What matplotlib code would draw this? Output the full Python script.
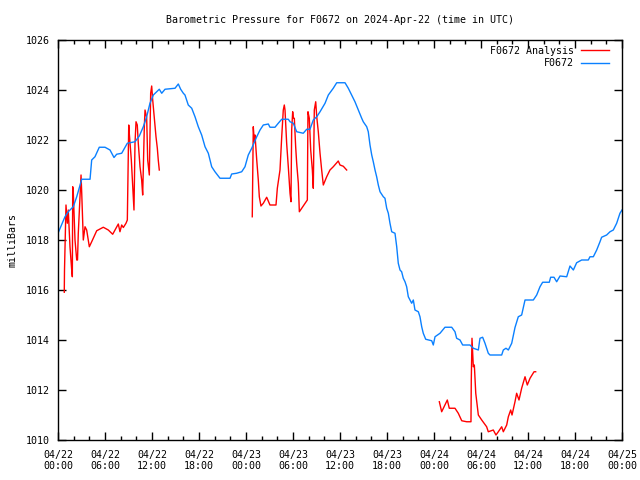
import matplotlib
matplotlib.use("Agg")
import matplotlib.pyplot as plt
from matplotlib.ticker import MultipleLocator, FixedLocator
import numpy as np

# hours since 2024-04-22 00:00 UTC
obs_hours = [0.0, 0.89, 1.31, 1.95, 2.39, 2.81, 3.03, 4.09, 4.30, 4.72, 5.27, 6.0, 6.64, 7.15,
             7.49, 8.13, 8.85, 9.83, 10.38, 10.89, 11.32, 11.74, 12.17, 12.93, 13.24, 13.66,
             14.94, 15.36, 15.66, 16.0, 16.21, 16.63, 17.07, 17.49, 17.91, 18.34, 18.77, 19.19,
             19.62, 20.04, 20.68, 21.96, 22.17, 22.81, 23.45, 23.87, 24.29, 24.73, 25.37, 25.79,
             26.21, 26.85, 27.06, 27.70, 28.12, 28.56, 29.40, 29.62, 30.04, 30.47, 31.31, 31.75,
             32.17, 32.59, 33.03, 33.45, 34.09, 34.51, 35.14, 35.58, 36.64, 37.06, 37.49, 37.91,
             38.34, 38.77, 38.97, 39.41, 39.61, 39.83, 40.05, 40.25, 40.47, 40.68, 40.89, 41.11,
             41.53, 41.74, 41.96, 42.17, 42.38, 42.60, 43.02, 43.24, 43.44, 43.66, 43.87, 44.08,
             44.30, 44.51, 44.72, 44.94, 45.15, 45.36, 45.57, 46.0, 46.21, 46.43, 46.63, 46.94,
             47.71, 47.91, 48.13, 48.77, 49.40, 50.26, 50.68, 50.89, 51.32, 51.66, 52.59, 53.02,
             53.66, 53.87, 54.21, 54.51, 54.93, 55.15, 56.64, 56.85, 57.19, 57.49, 57.92, 58.34,
             58.76, 59.19, 59.62, 60.68, 61.11, 61.53, 61.87, 62.72, 62.89, 63.32, 63.66, 64.09,
             64.94, 65.36, 65.79, 66.21, 66.85, 67.70, 67.91, 68.34, 68.77, 69.19, 69.40, 70.04,
             70.47, 70.89, 71.32, 71.74, 72.0]
obs_mbar = [1018.27, 1018.93, 1019.13, 1019.33, 1019.73, 1020.2, 1020.43, 1020.43, 1021.2, 1021.33,
            1021.71, 1021.71, 1021.6, 1021.3, 1021.43, 1021.47, 1021.87, 1021.93, 1022.16, 1022.53,
            1022.93, 1023.47, 1023.8, 1024.03, 1023.87, 1024.03, 1024.07, 1024.24, 1024.03, 1023.87,
            1023.8, 1023.4, 1023.27, 1022.93, 1022.53, 1022.2, 1021.73, 1021.47, 1020.93, 1020.73,
            1020.47, 1020.47, 1020.64, 1020.67, 1020.73, 1020.93, 1021.4, 1021.67, 1022.13, 1022.4,
            1022.6, 1022.64, 1022.51, 1022.51, 1022.67, 1022.83, 1022.83, 1022.73, 1022.67, 1022.33,
            1022.27, 1022.43, 1022.43, 1022.8, 1022.93, 1023.13, 1023.47, 1023.8, 1024.07, 1024.29,
            1024.29, 1024.07, 1023.8, 1023.53, 1023.2, 1022.87, 1022.73, 1022.53, 1022.33, 1021.8,
            1021.4, 1021.13, 1020.8, 1020.53, 1020.2, 1019.93, 1019.73, 1019.67, 1019.27, 1019.07,
            1018.67, 1018.33, 1018.27, 1017.73, 1017.07, 1016.8, 1016.73, 1016.47, 1016.33, 1016.13,
            1015.73, 1015.6, 1015.47, 1015.6, 1015.2, 1015.13, 1014.93, 1014.53, 1014.27, 1014.03,
            1013.97, 1013.8, 1014.13, 1014.27, 1014.51, 1014.51, 1014.33, 1014.07, 1014.0, 1013.8,
            1013.8, 1013.67, 1013.6, 1014.07, 1014.11, 1013.87, 1013.47, 1013.4, 1013.4, 1013.6,
            1013.67, 1013.6, 1013.87, 1014.5, 1014.93, 1015.0, 1015.6, 1015.6, 1015.8, 1016.13,
            1016.31, 1016.31, 1016.51, 1016.51, 1016.33, 1016.56, 1016.53, 1016.96, 1016.8, 1017.09,
            1017.2, 1017.2, 1017.33, 1017.33, 1017.6, 1017.93, 1018.11, 1018.2, 1018.33, 1018.4,
            1018.67, 1019.07, 1019.2]

# analysis series, three separate runs (gaps between them)
ana1_hours = [0.80, 0.83, 1.02, 1.19, 1.31, 1.53, 1.75, 1.83, 1.88, 1.95, 2.17, 2.39, 2.49, 2.59,
              2.94, 3.03, 3.23, 3.45, 3.66, 4.0, 4.30, 4.94, 5.78, 6.42, 6.98, 7.28, 7.70, 7.91,
              8.13, 8.34, 8.68, 8.85, 8.94, 9.03, 9.10, 9.36, 9.54, 9.70, 9.83, 9.96, 10.12, 10.25,
              10.47, 10.68, 10.81, 11.02, 11.11, 11.32, 11.45, 11.66, 11.83, 11.96, 12.09, 12.26,
              12.51, 12.68, 12.80, 12.93]
ana1_mbar = [1015.91, 1016.8, 1019.4, 1018.67, 1019.2, 1017.73, 1016.8, 1016.53, 1020.13, 1019.93,
             1018.0, 1017.2, 1017.2, 1018.27, 1020.6, 1019.87, 1018.0, 1018.53, 1018.4, 1017.73,
             1017.93, 1018.37, 1018.51, 1018.4, 1018.23, 1018.4, 1018.64, 1018.33, 1018.6, 1018.5,
             1018.67, 1018.8, 1020.73, 1022.6, 1022.27, 1021.2, 1020.13, 1019.2, 1021.87, 1022.73,
             1022.6, 1021.87, 1020.93, 1020.4, 1019.8, 1022.53, 1023.2, 1022.9, 1021.2, 1020.6,
             1023.87, 1024.16, 1023.6, 1023.0, 1022.13, 1021.67, 1021.2, 1020.8]

ana2_hours = [24.80, 24.93, 25.06, 25.15, 25.37, 25.57, 25.70, 25.91, 26.21, 26.64, 26.85, 27.06,
              27.83, 28.0, 28.34, 28.56, 28.76, 28.89, 28.98, 29.19, 29.40, 29.62, 29.74, 29.83,
              29.96, 30.04, 30.17, 30.34, 30.47, 30.68, 30.81, 31.11, 31.53, 31.83, 31.91, 32.08,
              32.26, 32.47, 32.59, 32.72, 32.90, 33.03, 33.23, 33.45, 33.66, 33.87, 34.30, 34.72,
              35.14, 35.58, 35.78, 36.0, 36.42, 36.85]
ana2_mbar = [1018.93, 1022.53, 1021.93, 1022.2, 1021.2, 1020.4, 1019.73, 1019.36, 1019.47, 1019.71,
             1019.55, 1019.4, 1019.4, 1020.07, 1020.8, 1022.13, 1023.2, 1023.4, 1023.2, 1021.87,
             1020.93, 1019.87, 1019.53, 1022.4, 1023.13, 1022.87, 1022.87, 1021.73, 1021.07, 1020.27,
             1019.13, 1019.27, 1019.47, 1019.6, 1023.13, 1022.87, 1021.6, 1020.8, 1020.07, 1023.2,
             1023.53, 1022.93, 1022.33, 1021.47, 1020.8, 1020.2, 1020.53, 1020.8, 1020.93, 1021.09,
             1021.16, 1021.0, 1020.95, 1020.8]

ana3_hours = [48.68, 48.98, 49.40, 49.70, 49.95, 50.68, 51.10, 51.54, 52.17, 52.72, 52.76, 52.85,
              53.02, 53.15, 53.33, 53.66, 54.09, 54.72, 54.93, 55.57, 55.91, 56.21, 56.64, 56.85,
              57.28, 57.49, 57.79, 57.96, 58.34, 58.55, 58.85, 59.19, 59.62, 59.91, 60.26, 60.77,
              60.98]
ana3_mbar = [1011.53, 1011.13, 1011.4, 1011.6, 1011.27, 1011.27, 1011.07, 1010.77, 1010.73, 1010.73,
             1012.4, 1014.07, 1012.93, 1013.0, 1011.87, 1011.0, 1010.8, 1010.53, 1010.33, 1010.4,
             1010.2, 1010.33, 1010.53, 1010.33, 1010.6, 1010.93, 1011.2, 1011.0, 1011.53, 1011.87,
             1011.6, 1012.07, 1012.53, 1012.2, 1012.47, 1012.73, 1012.73]

tick_labels = ["04/22\n00:00", "04/22\n06:00", "04/22\n12:00", "04/22\n18:00",
               "04/23\n00:00", "04/23\n06:00", "04/23\n12:00", "04/23\n18:00",
               "04/24\n00:00", "04/24\n06:00", "04/24\n12:00", "04/24\n18:00",
               "04/25\n00:00"]

font = "DejaVu Sans Mono"
fs = 7.2
red = "#ff0000"
blue = "#0a80ff"

fig = plt.figure(figsize=(6.4, 4.8), dpi=100)
ax = fig.add_axes([58 / 640, 40 / 480, 564 / 640, 400 / 480])

# nan between runs so the analysis line breaks
ana_h = ana1_hours + [np.nan] + ana2_hours + [np.nan] + ana3_hours
ana_v = ana1_mbar + [np.nan] + ana2_mbar + [np.nan] + ana3_mbar
ax.plot(ana_h, ana_v, color=red, lw=1.0, label="F0672 Analysis")
ax.plot(obs_hours, obs_mbar, color=blue, lw=1.0, label="F0672")

ax.set_xlim(0, 72)
ax.set_ylim(1010, 1026)
ax.xaxis.set_major_locator(FixedLocator(np.arange(0, 73, 6)))
ax.xaxis.set_minor_locator(MultipleLocator(2))
ax.set_xticklabels(tick_labels)
ax.yaxis.set_major_locator(MultipleLocator(2))

ax.tick_params(which="both", direction="in", top=True, right=True, width=1, color="black",
               labelsize=fs)
ax.tick_params(axis="x", pad=7)
ax.tick_params(axis="y", pad=6)
ax.tick_params(which="major", length=6)
ax.tick_params(which="minor", length=3)
for lbl in ax.get_xticklabels() + ax.get_yticklabels():
    lbl.set_fontfamily(font)
for sp in ax.spines.values():
    sp.set_linewidth(1)
    sp.set_color("black")

ax.set_ylabel("milliBars", fontsize=fs, family=font)
ax.yaxis.set_label_coords(-0.071, 0.5)
fig.text(340 / 640, 1 - 20 / 480, "Barometric Pressure for F0672 on 2024-Apr-22 (time in UTC)",
         ha="center", va="center", fontsize=fs, family=font)

leg = ax.legend(loc="upper right", bbox_to_anchor=(0.977, 0.986), frameon=False,
                markerfirst=False, handlelength=2.8, handletextpad=0.7, labelspacing=0.25,
                borderaxespad=0, borderpad=0, prop={"family": font, "size": fs})
for t in leg.get_texts():
    t.set_ha("right")

fig.savefig("out.png", dpi=100)
